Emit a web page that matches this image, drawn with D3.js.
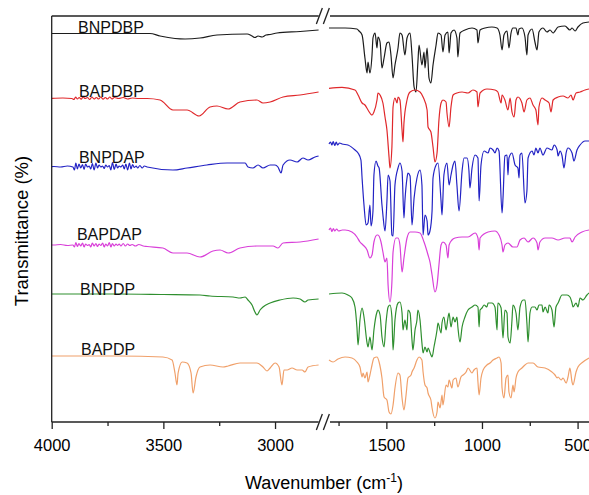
<!DOCTYPE html>
<html><head><meta charset="utf-8">
<script src="https://cdn.jsdelivr.net/npm/d3@7"></script>
<style>html,body{margin:0;padding:0;background:#fff;}svg{display:block;}</style>
</head><body>
<svg id="chart" width="589" height="495"></svg>
<script>
// ---- data: [wavenumber (cm-1), offset transmittance (a.u.)] ----
const seriesNames = ["BNPDBP","BAPDBP","BNPDAP","BAPDAP","BNPDP","BAPDP"];
const seriesColors = ["#1c1c1c","#e0282b","#2323c4","#d940d9","#2f8f2f","#f0a06a"];
const labelWn = [3882,3878,3878,3887,3873,3869];
const labelT = [389,325,259,182,127,67];

const leftTicks = [4000,3500,3000];
const leftMinor = [3750,3250];
const rightTicks = [1500,1000,500];
const rightMinor = [1750,1250,750];

const bnpdbpLeft = [[4000,388.5],[3560,388.5],[3515,386],[3448,383.5],[3403,383],[3336,384],[3260,387],[3125,388],[3103,386],[3090,384.5],[3076,386],[3058,385],[3040,387],[3022,387.5],[2991,389],[2888,390.5],[2805,392]];
const bnpdbpRight = [[1800,394],[1716,394],[1654,393],[1643,391],[1627,387],[1612,364],[1601,349],[1596,360],[1586,349],[1575,367],[1570,384],[1559,389],[1549,374],[1544,385],[1533,380],[1523,354],[1512,364],[1497,379],[1486,380],[1476,367],[1465,344],[1455,357],[1439,374],[1429,389],[1418,387],[1403,367],[1392,384],[1376,389],[1366,367],[1355,335],[1345,330],[1335,360],[1329,377],[1314,357],[1303,370],[1298,354],[1287,374],[1277,344],[1267,339],[1256,357],[1240,377],[1230,389],[1214,387],[1204,370],[1193,387],[1178,390],[1172,369],[1162,389],[1146,392],[1131,384],[1126,365],[1115,389],[1089,392],[1052,394],[1026,392],[1021,379],[1010,392],[984,394],[948,395],[921,394],[906,387],[895,372],[885,387],[869,391],[859,374],[848,389],[838,394],[822,394],[812,387],[806,393],[791,394],[775,385],[765,367],[759,387],[738,393],[723,380],[712,372],[702,390],[681,394],[660,390],[644,392],[628,389],[618,391],[602,395],[566,396],[540,392],[529,394],[513,391],[498,395],[472,399],[440,400]];

const bapdbpLeft = [[4000,323.7],[3950,324],[3910,323.5],[3900,322.5],[3893,325],[3885,323],[3877,324.5],[3868,322.8],[3860,325],[3850,323.5],[3840,324.5],[3830,322.5],[3820,325],[3810,323],[3800,324.5],[3790,323],[3780,325],[3770,322.8],[3760,324.5],[3750,323],[3740,325],[3730,323],[3720,324.5],[3700,323.5],[3680,324.5],[3660,323],[3640,324],[3610,323.5],[3573,323.5],[3515,322],[3457,312],[3394,312],[3340,306],[3291,315],[3260,316],[3210,313],[3157,320],[3081,322],[3054,319],[3022,320],[2964,325],[2888,327],[2805,330]];
const bapdbpRight = [[1800,333.7],[1732,334.7],[1664,332],[1648,327],[1627,319],[1612,317],[1596,312],[1575,307],[1565,310],[1549,322],[1544,329],[1533,327],[1518,319],[1507,305],[1497,292],[1486,265],[1481,254],[1471,275],[1465,315],[1455,324],[1444,319],[1439,325],[1429,322],[1418,292],[1413,280],[1408,299],[1392,322],[1376,330],[1350,332],[1324,330],[1308,325],[1287,312],[1282,295],[1267,290],[1256,275],[1246,260],[1235,269],[1225,302],[1214,319],[1204,322],[1188,320],[1183,309],[1172,295],[1162,315],[1151,327],[1131,329],[1104,330],[1073,329],[1047,332],[1026,330],[1021,315],[1010,329],[974,333],[932,332],[917,330],[900,319],[895,327],[880,322],[864,312],[853,324],[843,310],[832,305],[822,322],[812,325],[791,319],[780,310],[765,322],[749,324],[733,317],[718,312],[707,297],[702,315],[686,324],[670,322],[649,319],[639,310],[628,322],[602,325],[576,326],[550,324],[534,327],[524,322],[508,329],[487,330],[461,332],[440,333]];

const bnpdapLeft = [[4000,255.3],[3990,255.5],[3960,255],[3930,256],[3905,255],[3898,252],[3892,259],[3885,253],[3878,258],[3870,254],[3862,257.5],[3855,252.5],[3848,258],[3840,255],[3832,256],[3825,253],[3818,258.5],[3810,252],[3802,259],[3795,254],[3788,257],[3780,255],[3772,256],[3765,253.5],[3758,257],[3750,255],[3742,256.5],[3735,252],[3728,259.5],[3720,252.5],[3712,258],[3705,254],[3698,256],[3690,255],[3682,257],[3675,253],[3668,258],[3660,252],[3652,259],[3645,253],[3638,257.5],[3630,254.5],[3622,256],[3615,254],[3605,256.5],[3595,254],[3585,256],[3573,255],[3457,252],[3394,254],[3305,257],[3215,259],[3134,259],[3121,255],[3099,254],[3076,257],[3054,254],[3022,257],[3000,257],[2987,255],[2973,249],[2964,257],[2933,262],[2901,260],[2875,264],[2852,262],[2821,265],[2805,266]];
const bnpdapRight = [[1800,278],[1792,280],[1785,277],[1778,280.5],[1770,276.5],[1762,280],[1755,277],[1745,279],[1732,278],[1701,277],[1664,272],[1648,269],[1633,262],[1627,244],[1617,217],[1606,197],[1596,199],[1586,217],[1580,196],[1570,211],[1565,247],[1554,261],[1544,256],[1538,254],[1523,217],[1518,207],[1507,191],[1497,221],[1491,247],[1481,241],[1471,187],[1465,186],[1455,237],[1439,254],[1429,259],[1418,251],[1408,204],[1403,221],[1392,244],[1387,249],[1376,246],[1366,197],[1355,224],[1340,244],[1324,252],[1314,237],[1308,187],[1298,207],[1287,201],[1282,187],[1272,191],[1261,211],[1256,244],[1240,257],[1230,259],[1214,221],[1209,207],[1199,247],[1183,259],[1172,237],[1162,247],[1151,257],[1141,261],[1131,237],[1120,211],[1104,251],[1094,264],[1078,264],[1068,251],[1063,234],[1052,254],[1036,267],[1021,264],[1015,221],[1005,257],[989,271],[968,269],[958,274],[942,272],[932,269],[921,274],[911,271],[895,209],[890,224],[880,266],[869,267],[864,247],[859,264],[843,269],[827,257],[812,254],[806,244],[801,267],[791,269],[775,219],[765,231],[759,264],[738,271],[728,267],[718,274],[707,269],[697,274],[681,267],[660,274],[634,272],[623,277],[607,272],[602,266],[592,271],[581,266],[571,254],[560,269],[550,274],[529,269],[519,261],[503,272],[487,277],[461,281],[440,281]];

const bapdapLeft = [[4000,177],[3990,177],[3960,177.5],[3930,176.5],[3905,177],[3898,175],[3892,179.5],[3885,175.5],[3878,178.5],[3870,176],[3862,179],[3855,175],[3848,178],[3840,176.5],[3832,177.5],[3825,175],[3818,179],[3810,176],[3802,178.5],[3795,175.5],[3788,178],[3780,176.5],[3772,179],[3765,175],[3758,178],[3750,176],[3742,179.5],[3735,175],[3728,178.5],[3720,176],[3712,178],[3705,176.5],[3698,178],[3690,176],[3680,178.5],[3670,176],[3660,178],[3650,176.5],[3640,177.5],[3625,176],[3610,177.5],[3590,176],[3573,175.5],[3502,174],[3457,169],[3394,169],[3336,165],[3278,171],[3246,172],[3210,169],[3157,174],[3081,176],[3009,176],[2987,174],[2964,179],[2888,180],[2805,183]];
const bapdapRight = [[1800,192],[1792,194],[1785,190.5],[1777,193.5],[1770,191],[1760,193],[1750,191],[1730,192],[1716,192],[1680,190],[1654,185],[1638,180],[1622,177],[1601,172],[1586,164],[1575,167],[1565,180],[1549,187],[1544,187],[1528,180],[1518,170],[1507,160],[1497,164],[1491,137],[1481,120],[1471,140],[1465,170],[1450,184],[1439,184],[1429,177],[1418,150],[1408,164],[1392,184],[1376,190],[1350,190],[1324,189],[1303,180],[1282,167],[1272,160],[1261,147],[1246,130],[1235,137],[1225,157],[1214,177],[1204,180],[1188,177],[1178,164],[1172,177],[1157,182],[1141,184],[1104,185],[1073,185],[1036,189],[1021,184],[1015,172],[1010,184],[968,190],[932,191],[911,187],[895,177],[890,170],[880,177],[864,179],[838,175],[817,175],[801,182],[780,184],[759,180],[733,184],[712,179],[707,172],[697,180],[670,184],[634,184],[602,182],[566,184],[540,184],[529,180],[513,185],[477,190],[440,192]];

const bnpdpLeft = [[4000,128],[3700,128],[3500,127.5],[3336,127],[3291,126],[3188,125],[3157,124],[3134,125],[3121,122],[3103,117],[3090,110],[3081,107],[3067,112],[3054,115],[3022,119],[2978,122],[2919,124],[2888,123],[2866,120],[2852,122],[2805,123]];
const bnpdpRight = [[1800,128],[1732,129],[1701,127],[1680,124],[1664,115],[1654,95],[1648,77],[1638,102],[1627,114],[1617,105],[1601,79],[1596,75],[1586,85],[1575,72],[1565,92],[1549,110],[1544,112],[1533,107],[1523,85],[1512,75],[1502,99],[1491,115],[1481,117],[1471,105],[1465,72],[1455,102],[1439,119],[1429,120],[1418,109],[1413,92],[1403,102],[1392,92],[1387,112],[1376,109],[1366,82],[1361,72],[1350,92],[1340,102],[1335,112],[1324,102],[1314,79],[1308,69],[1298,75],[1287,70],[1282,74],[1267,67],[1261,65],[1251,75],[1235,92],[1230,99],[1214,89],[1209,99],[1199,105],[1188,92],[1178,104],[1172,109],[1162,95],[1151,105],[1141,100],[1131,105],[1126,95],[1115,80],[1104,95],[1089,105],[1073,112],[1052,115],[1036,117],[1021,115],[1015,95],[1010,112],[1000,114],[989,117],[974,115],[968,119],[948,119],[932,115],[921,92],[917,119],[900,114],[890,84],[880,112],[869,109],[864,85],[853,79],[843,102],[838,117],[822,109],[812,92],[801,115],[785,122],[775,122],[765,99],[759,80],[749,109],[738,115],[723,115],[712,112],[702,117],[686,117],[681,110],[670,115],[655,109],[649,117],[634,112],[623,95],[613,115],[602,119],[581,127],[555,127],[540,125],[529,119],[524,115],[508,119],[498,115],[487,124],[472,122],[451,127],[440,129]];

const bapdpLeft = [[4000,66],[3700,66],[3502,65],[3461,62],[3448,49],[3439,37],[3434,49],[3416,60],[3394,59],[3376,49],[3367,29],[3354,45],[3336,55],[3291,57],[3233,55],[3210,56],[3157,59],[3081,59],[3054,55],[3036,51],[3022,54],[3000,59],[2982,55],[2969,37],[2960,52],[2946,52],[2924,54],[2901,52],[2879,52],[2866,50],[2852,55],[2805,57]];
const bapdpRight = [[1800,62],[1779,60],[1753,63],[1716,65],[1680,64],[1654,60],[1638,55],[1627,45],[1622,49],[1612,44],[1601,50],[1596,40],[1586,47],[1575,57],[1565,64],[1549,65],[1538,60],[1523,44],[1512,25],[1497,22],[1486,10],[1476,8],[1465,17],[1455,34],[1439,49],[1429,47],[1418,24],[1408,12],[1397,27],[1387,44],[1371,47],[1366,50],[1355,54],[1340,62],[1329,65],[1314,62],[1308,50],[1298,37],[1287,34],[1282,29],[1267,22],[1261,14],[1246,4],[1235,10],[1230,20],[1219,14],[1209,27],[1204,17],[1188,37],[1178,35],[1172,42],[1157,34],[1151,42],[1136,44],[1126,35],[1110,45],[1099,47],[1083,50],[1073,54],[1052,49],[1042,52],[1026,54],[1021,40],[1015,27],[1005,44],[994,52],[974,57],[958,59],[942,62],[921,64],[911,65],[900,59],[895,34],[885,24],[874,44],[864,47],[859,30],[848,24],[838,37],[832,30],[822,44],[812,50],[791,54],[775,57],[759,59],[733,59],[707,55],[670,54],[634,50],[618,47],[607,44],[602,45],[586,42],[576,44],[560,39],[550,45],[540,54],[529,40],[524,37],[508,50],[498,55],[472,60],[440,64]];

const leftData = [bnpdbpLeft,bapdbpLeft,bnpdapLeft,bapdapLeft,bnpdpLeft,bapdpLeft];
const rightData = [bnpdbpRight,bapdbpRight,bnpdapRight,bapdapRight,bnpdpRight,bapdpRight];

// ---- layout ----
const svg = d3.select("#chart");
const yTop = 16, yBottom = 422;
const xL = d3.scaleLinear().domain([4000,2800]).range([51.7,319.7]);
const xR = d3.scaleLinear().domain([1800,400]).range([329,596.7]);
const y = d3.scaleLinear().domain([0,406]).range([yBottom, yTop]);
const font = "'Liberation Sans', Arial, Helvetica, sans-serif";

const lineL = d3.line().x(d=>xL(d[0])).y(d=>y(d[1])).curve(d3.curveMonotoneX);
const lineR = d3.line().x(d=>xR(d[0])).y(d=>y(d[1])).curve(d3.curveMonotoneX);

seriesNames.forEach((name,i)=>{
  svg.append("path").datum(leftData[i]).attr("d",lineL)
    .attr("fill","none").attr("stroke",seriesColors[i]).attr("stroke-width",1.2);
  svg.append("path").datum(rightData[i]).attr("d",lineR)
    .attr("fill","none").attr("stroke",seriesColors[i]).attr("stroke-width",1.2);
  svg.append("text").attr("x",xL(labelWn[i])).attr("y",y(labelT[i]))
    .attr("font-family",font).attr("font-size",16).attr("fill","#111").text(name);
});

// frame
const g = svg.append("g").attr("stroke","#222").attr("stroke-width",1.3).attr("fill","none");
g.append("line").attr("x1",xL(4000)).attr("x2",xL(4000)).attr("y1",yTop).attr("y2",yBottom);
const bx = (xL(2800)+xR(1800))/2;
[yTop,yBottom].forEach(yy=>{
  g.append("line").attr("x1",xL(4000)).attr("x2",xL(2800)-1).attr("y1",yy).attr("y2",yy);
  g.append("line").attr("x1",xR(1800)+1).attr("x2",xR(400)).attr("y1",yy).attr("y2",yy);
  g.append("line").attr("x1",bx-8).attr("x2",bx-2).attr("y1",yy+8).attr("y2",yy-8);
  g.append("line").attr("x1",bx-1).attr("x2",bx+5).attr("y1",yy+8).attr("y2",yy-8);
});

// axes
function drawAxis(scale, major, minor){
  const ax = svg.append("g").attr("transform",`translate(0,${yBottom})`)
    .call(d3.axisBottom(scale).tickValues(major).tickSize(7).tickSizeOuter(0).tickPadding(10).tickFormat(d3.format("d")));
  ax.select(".domain").remove();
  ax.selectAll(".tick line").attr("stroke","#222").attr("stroke-width",1.3);
  ax.selectAll("text").attr("font-family",font).attr("font-size",16.5).attr("fill","#000");
  const mn = svg.append("g").attr("transform",`translate(0,${yBottom})`)
    .call(d3.axisBottom(scale).tickValues(minor).tickSize(4).tickFormat(""));
  mn.select(".domain").remove();
  mn.selectAll(".tick line").attr("stroke","#222").attr("stroke-width",1.3);
}
drawAxis(xL,leftTicks,leftMinor);
drawAxis(xR,rightTicks,rightMinor);

svg.append("text").attr("x",324).attr("y",489).attr("text-anchor","middle")
  .attr("font-family",font).attr("font-size",18).attr("fill","#000")
  .html('Wavenumber (cm<tspan dy="-7" font-size="12">-1</tspan><tspan dy="7">)</tspan>');
svg.append("text").attr("transform","translate(28,231) rotate(-90)").attr("text-anchor","middle")
  .attr("font-family",font).attr("font-size",18.5).attr("fill","#000").text("Transmittance (%)");
</script>
</body></html>
